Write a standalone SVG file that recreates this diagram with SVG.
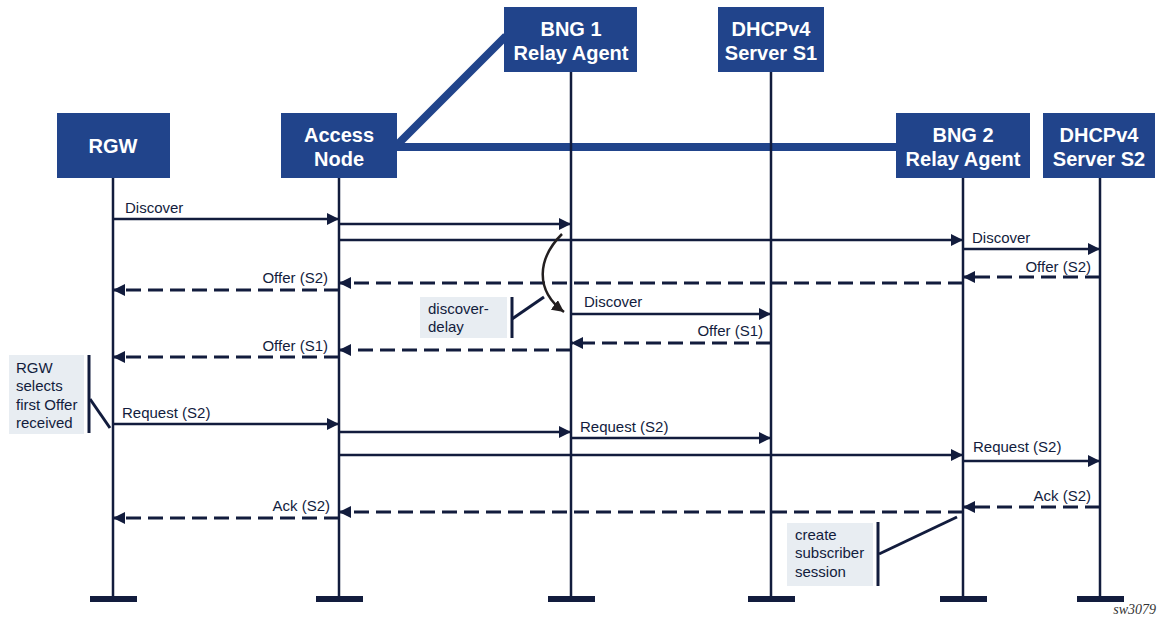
<svg xmlns="http://www.w3.org/2000/svg" width="1158" height="622" viewBox="0 0 1158 622">
<style>
.box{fill:#21448b}
.bt{font-family:"Liberation Sans",Arial,sans-serif;font-weight:bold;font-size:20px;fill:#fff;text-anchor:middle}
.life{stroke:#121c3d;stroke-width:2.5;fill:none}
.foot{fill:#121c3d}
.msg{stroke:#121c3d;stroke-width:2.5;fill:none;marker-end:url(#ah)}
.dash{stroke:#121c3d;stroke-width:3;fill:none;stroke-dasharray:15 7;marker-end:url(#ah)}
.lbl{font-family:"Liberation Sans",Arial,sans-serif;font-size:15px;fill:#121c3d}
.r{text-anchor:end}
.link{stroke:#21448b;stroke-width:8;fill:none}
.note{fill:#e8edf2}
.nt{font-family:"Liberation Sans",Arial,sans-serif;font-size:15px;fill:#121c3d}
.br{stroke:#121c3d;stroke-width:3;fill:none}
</style>
<defs>
<marker id="ah" markerUnits="userSpaceOnUse" markerWidth="13" markerHeight="12" refX="12" refY="6" orient="auto" viewBox="0 0 13 12">
<path d="M0,0 L12,6 L0,12 z" fill="#121c3d"/>
</marker>
<marker id="ch" markerUnits="userSpaceOnUse" markerWidth="14" markerHeight="12" refX="12" refY="6" orient="auto" viewBox="0 0 14 12">
<path d="M0,0 L12,6 L0,12 z" fill="#231f20"/>
</marker>
</defs>
<rect width="1158" height="622" fill="#fff"/>

<g id="links">
<line class="link" x1="397" y1="147" x2="896" y2="147"/>
<line class="link" x1="397" y1="145" x2="506" y2="36"/>
</g>

<g id="lifelines">
<line class="life" x1="113" y1="178" x2="113" y2="599"/>
<rect class="foot" x="90" y="596" width="47" height="6"/>
<line class="life" x1="339" y1="178" x2="339" y2="599"/>
<rect class="foot" x="316" y="596" width="47" height="6"/>
<line class="life" x1="571" y1="72" x2="571" y2="599"/>
<rect class="foot" x="548" y="596" width="47" height="6"/>
<line class="life" x1="771" y1="72" x2="771" y2="599"/>
<rect class="foot" x="748" y="596" width="47" height="6"/>
<line class="life" x1="963" y1="178" x2="963" y2="599"/>
<rect class="foot" x="940" y="596" width="47" height="6"/>
<line class="life" x1="1100" y1="178" x2="1100" y2="599"/>
<rect class="foot" x="1077" y="596" width="47" height="6"/>
</g>

<g id="rgw">
<rect class="box" x="57" y="113" width="113" height="65"/>
<text class="bt" x="113" y="153">RGW</text>
</g>
<g id="access-node">
<rect class="box" x="281" y="113" width="116" height="65"/>
<text class="bt" x="339" y="142">Access</text>
<text class="bt" x="339" y="166">Node</text>
</g>
<g id="bng1">
<rect class="box" x="504" y="7" width="133" height="65"/>
<text class="bt" x="571" y="36">BNG 1</text>
<text class="bt" x="571" y="60">Relay Agent</text>
</g>
<g id="dhcp-s1">
<rect class="box" x="718" y="7" width="106" height="65"/>
<text class="bt" x="771" y="36">DHCPv4</text>
<text class="bt" x="771" y="60">Server S1</text>
</g>
<g id="bng2">
<rect class="box" x="896" y="113" width="134" height="65"/>
<text class="bt" x="963" y="142">BNG 2</text>
<text class="bt" x="963" y="166">Relay Agent</text>
</g>
<g id="dhcp-s2">
<rect class="box" x="1043" y="113" width="112" height="65"/>
<text class="bt" x="1099" y="142">DHCPv4</text>
<text class="bt" x="1099" y="166">Server S2</text>
</g>

<g id="connectors">
<line class="msg" x1="113" y1="219" x2="339" y2="219"/>
<line class="msg" x1="339" y1="224" x2="571" y2="224"/>
<line class="msg" x1="339" y1="240" x2="963" y2="240"/>
<line class="msg" x1="963" y1="249" x2="1100" y2="249"/>
<line class="dash" x1="1100" y1="277" x2="963" y2="277"/>
<line class="dash" x1="963" y1="283" x2="339" y2="283"/>
<line class="dash" x1="339" y1="290" x2="113" y2="290"/>
<path d="M562,234 C538,258 534,290 564,312" stroke="#231f20" stroke-width="2.5" fill="none" marker-end="url(#ch)"/>
<line class="msg" x1="571" y1="314" x2="771" y2="314"/>
<line class="dash" x1="771" y1="343" x2="571" y2="343"/>
<line class="dash" x1="571" y1="350" x2="339" y2="350"/>
<line class="dash" x1="339" y1="357" x2="113" y2="357"/>
<line class="msg" x1="113" y1="424" x2="339" y2="424"/>
<line class="msg" x1="339" y1="432" x2="571" y2="432"/>
<line class="msg" x1="571" y1="438" x2="771" y2="438"/>
<line class="msg" x1="339" y1="455" x2="963" y2="455"/>
<line class="msg" x1="963" y1="461" x2="1100" y2="461"/>
<line class="dash" x1="1100" y1="507" x2="963" y2="507"/>
<line class="dash" x1="963" y1="512" x2="339" y2="512"/>
<line class="dash" x1="339" y1="518" x2="113" y2="518"/>
</g>

<g id="labels">
<text class="lbl" x="125" y="213">Discover</text>
<text class="lbl" x="972" y="243">Discover</text>
<text class="lbl r" x="1091" y="272">Offer (S2)</text>
<text class="lbl r" x="328" y="283">Offer (S2)</text>
<text class="lbl" x="584" y="307">Discover</text>
<text class="lbl r" x="763" y="336">Offer (S1)</text>
<text class="lbl r" x="328" y="351">Offer (S1)</text>
<text class="lbl" x="122" y="418">Request (S2)</text>
<text class="lbl" x="580" y="432">Request (S2)</text>
<text class="lbl" x="973" y="452">Request (S2)</text>
<text class="lbl r" x="1091" y="501">Ack (S2)</text>
<text class="lbl r" x="330" y="511">Ack (S2)</text>
</g>

<g id="note-discover-delay">
<rect class="note" x="420" y="297" width="87" height="41"/>
<text class="nt" x="428" y="314">discover-</text>
<text class="nt" x="428" y="332">delay</text>
<line class="br" x1="512" y1="297" x2="512" y2="338"/>
<line class="br" x1="512" y1="319" x2="544" y2="297"/>
</g>

<g id="note-rgw-selects">
<rect class="note" x="9" y="355" width="75" height="79"/>
<text class="nt" x="16" y="373">RGW</text>
<text class="nt" x="16" y="391">selects</text>
<text class="nt" x="16" y="410">first Offer</text>
<text class="nt" x="16" y="428">received</text>
<line class="br" x1="89" y1="355" x2="89" y2="433"/>
<line class="br" x1="90" y1="399" x2="110" y2="428"/>
</g>

<g id="note-create-session">
<rect class="note" x="787" y="523" width="86" height="63"/>
<text class="nt" x="795" y="540">create</text>
<text class="nt" x="795" y="558">subscriber</text>
<text class="nt" x="795" y="577">session</text>
<line class="br" x1="878" y1="522" x2="878" y2="586"/>
<line class="br" x1="879" y1="554" x2="957" y2="517"/>
</g>

<text x="1156" y="614" font-family="'Liberation Serif','Times New Roman',serif" font-style="italic" font-size="14" fill="#333" text-anchor="end">sw3079</text>
</svg>
